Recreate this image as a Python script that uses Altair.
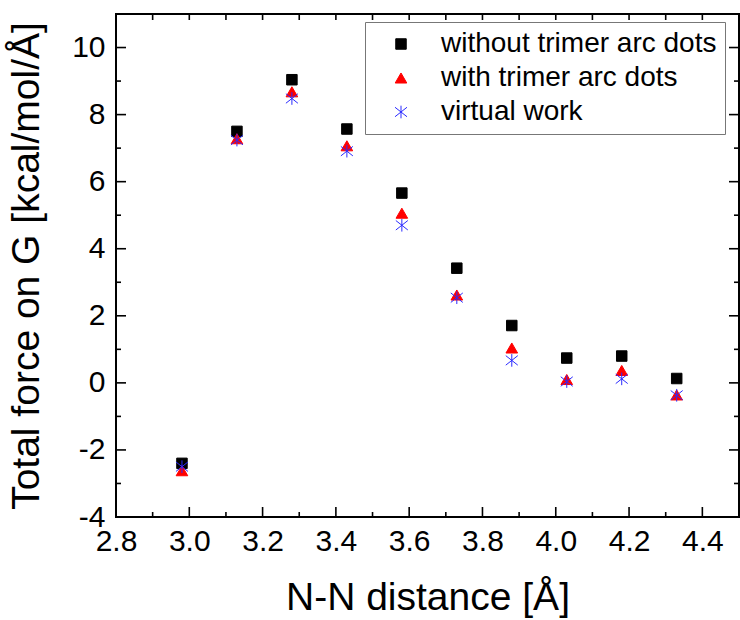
import altair as alt
import pandas as pd

# ---- data ----
x_vals = [2.98, 3.13, 3.28, 3.43, 3.58, 3.73, 3.88, 4.03, 4.18, 4.33]
without_arc = [-2.40, 7.50, 9.04, 7.57, 5.66, 3.42, 1.71, 0.74, 0.80, 0.13]
with_arc = [-2.62, 7.28, 8.68, 7.07, 5.06, 2.62, 1.04, 0.10, 0.37, -0.36]
virtual_work = [-2.50, 7.24, 8.48, 6.91, 4.70, 2.54, 0.67, 0.04, 0.12, -0.37]
series_names = ["without trimer arc dots", "with trimer arc dots", "virtual work"]

x_major = [2.8, 3.0, 3.2, 3.4, 3.6, 3.8, 4.0, 4.2, 4.4]
x_minor = [2.9, 3.1, 3.3, 3.5, 3.7, 3.9, 4.1, 4.3]
y_major = [-4, -2, 0, 2, 4, 6, 8, 10]
y_minor = [-3, -1, 1, 3, 5, 7, 9]

W, H = 623, 503
FONT = "Liberation Sans"
asterisk = "M0,-1L0,1M-0.95,-0.75L0.95,0.75M-0.95,0.75L0.95,-0.75"

rows = []
for name, vals in zip(series_names, [without_arc, with_arc, virtual_work]):
    for xv, yv in zip(x_vals, vals):
        rows.append({"x": xv, "y": yv, "series": name})
df = pd.DataFrame(rows)

x_scale = alt.Scale(domain=[2.8, 4.5], nice=False, zero=False)
y_scale = alt.Scale(domain=[-4, 11], nice=False, zero=False)

x_axis = alt.Axis(
    values=x_major, format=".1f", title="N-N distance [Å]",
    ticks=False, domain=False, grid=False, labelFlush=False, labelOverlap=False,
    labelFont=FONT, labelFontSize=30, labelColor="black", labelPadding=9,
    titleFont=FONT, titleFontSize=39, titleFontWeight="normal",
    titleColor="black", titlePadding=22)
y_axis = alt.Axis(
    values=y_major, labelExpr="'' + datum.value", title="Total force on G [kcal/mol/Å]",
    ticks=False, domain=False, grid=False, labelFlush=False, labelOverlap=False,
    labelFont=FONT, labelFontSize=30, labelColor="black", labelPadding=11,
    titleFont=FONT, titleFontSize=39, titleFontWeight="normal",
    titleColor="black", titlePadding=25)

leg = alt.Legend(
    title=None, orient="none", legendX=249, legendY=8,
    strokeColor="#777777", fillColor="white", padding=8,
    labelFont=FONT, labelFontSize=28, labelColor="black",
    symbolOffset=14, labelOffset=26,
    rowPadding=6, labelLimit=500,
)

points = alt.Chart(df).mark_point(opacity=1).encode(
    x=alt.X("x:Q", scale=x_scale, axis=x_axis),
    y=alt.Y("y:Q", scale=y_scale, axis=y_axis),
    shape=alt.Shape("series:N", scale=alt.Scale(domain=series_names,
                    range=["square", "triangle-up", asterisk]), legend=leg),
    fill=alt.Fill("series:N", scale=alt.Scale(domain=series_names,
                  range=["black", "red", "transparent"]), legend=leg),
    stroke=alt.Stroke("series:N", scale=alt.Scale(domain=series_names,
                      range=["black", "red", "#2a2aff"]), legend=leg),
    size=alt.Size("series:N", scale=alt.Scale(domain=series_names,
                  range=[110, 160, 190]), legend=leg),
    strokeWidth=alt.StrokeWidth("series:N", scale=alt.Scale(domain=series_names,
                                range=[1, 1, 1.4]), legend=leg),
)


def yticks(vals, x0, x1):
    return alt.Chart(pd.DataFrame({"y": vals})).mark_rule(color="black", strokeWidth=1.6).encode(
        y=alt.Y("y:Q", scale=y_scale, axis=y_axis), x=alt.value(x0), x2=alt.value(x1))


def xticks(vals, y0, y1):
    return alt.Chart(pd.DataFrame({"x": vals})).mark_rule(color="black", strokeWidth=1.6).encode(
        x=alt.X("x:Q", scale=x_scale, axis=x_axis), y=alt.value(y0), y2=alt.value(y1))


chart = alt.layer(
    points,
    yticks(y_major, 0, 10), yticks(y_minor, 0, 5),
    yticks(y_major, W, W - 10), yticks(y_minor, W, W - 5),
    xticks(x_major, H, H - 10), xticks(x_minor, H, H - 5),
    xticks(x_major, 0, 6), xticks(x_minor, 0, 6),
).properties(
    width=W, height=H,
    padding={"left": 116, "top": 14, "right": 1, "bottom": 103},
    autosize=alt.AutoSizeParams(type="none"),
    background="white",
).configure_view(stroke="black", strokeWidth=2)

chart.save("out.html", embed_options={"renderer": "svg", "actions": False})
